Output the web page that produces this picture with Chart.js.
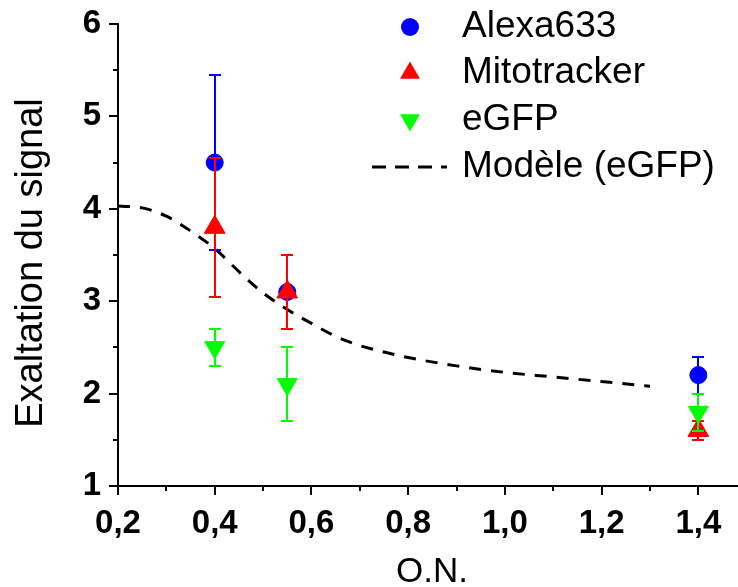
<!DOCTYPE html>
<html lang="fr">
<head>
<meta charset="UTF-8">
<title>Exaltation du signal</title>
<script src="https://cdn.jsdelivr.net/npm/chart.js@4.4.1/dist/chart.umd.min.js"></script>
<style>
    html, body { margin: 0; padding: 0; background: #fff; overflow: hidden; }
    #chartBox { width: 738px; height: 587px; }
</style>
</head>
<body>
<div id="chartBox"><canvas id="signalChart" width="738" height="587"></canvas></div>
<script>
// Exaltation du signal en fonction de l'ouverture numerique

const onValues = [0.4, 0.55, 1.4];

const alexaValues = [4.5, 3.1, 2.2];
const alexaErrors = [0.95, 0.05, 0.2];

const mitoValues = [3.8, 3.1, 1.6];
const mitoErrors = [0.75, 0.4, 0.1];

const egfpValues = [2.5, 2.1, 1.8];
const egfpErrors = [0.2, 0.4, 0.2];

// courbe du modele (eGFP)
const modelOn = [0.2, 0.25, 0.3, 0.35, 0.4, 0.45, 0.5, 0.55, 0.6, 0.65, 0.7, 0.75, 0.8, 0.9, 1.0, 1.1, 1.2, 1.3];
const modelValues = [4.03, 4.01, 3.92, 3.76, 3.57, 3.32, 3.09, 2.91, 2.76, 2.62, 2.52, 2.45, 2.39, 2.30, 2.23, 2.18, 2.13, 2.08];

const xTicks = [0.2, 0.4, 0.6, 0.8, 1.0, 1.2, 1.4];
const xMinorTicks = [0.3, 0.5, 0.7, 0.9, 1.1, 1.3];
const yTicks = [1, 2, 3, 4, 5, 6];
const yMinorTicks = [1.5, 2.5, 3.5, 4.5, 5.5];

const FONT = '"Liberation Sans", Arial, Helvetica, sans-serif';

function toPoints(values, errors) {
    return onValues.map((x, i) => ({ x: x, y: values[i], err: errors[i] }));
}

// barres d'erreur : dessinees juste avant les symboles de chaque serie
const errorBarPlugin = {
    id: 'errorBars',
    beforeDatasetDraw(chart, args) {
        const ds = chart.data.datasets[args.index];
        if (!ds.hasErrors) return;
        const ctx = chart.ctx;
        const xs = chart.scales.x;
        const ys = chart.scales.y;
        ctx.save();
        ctx.strokeStyle = ds.backgroundColor;
        ctx.lineWidth = 2;
        ds.data.forEach(p => {
            const px = Math.round(xs.getPixelForValue(p.x));
            const top = Math.round(ys.getPixelForValue(p.y + p.err));
            const bottom = Math.round(ys.getPixelForValue(p.y - p.err));
            ctx.beginPath();
            ctx.moveTo(px, top);
            ctx.lineTo(px, bottom);
            ctx.moveTo(px - 6, top);
            ctx.lineTo(px + 6, top);
            ctx.moveTo(px - 6, bottom);
            ctx.lineTo(px + 6, bottom);
            ctx.stroke();
        });
        ctx.restore();
    }
};

// graduations, titres des axes et legende
const decorPlugin = {
    id: 'decor',
    afterDraw(chart) {
        const ctx = chart.ctx;
        const area = chart.chartArea;
        const xs = chart.scales.x;
        const ys = chart.scales.y;

        ctx.save();
        ctx.strokeStyle = '#000';
        ctx.lineWidth = 2;
        ctx.beginPath();
        yTicks.forEach(v => {
            const py = Math.round(ys.getPixelForValue(v));
            ctx.moveTo(area.left - 9, py);
            ctx.lineTo(area.left, py);
        });
        yMinorTicks.forEach(v => {
            const py = Math.round(ys.getPixelForValue(v));
            ctx.moveTo(area.left - 5, py);
            ctx.lineTo(area.left, py);
        });
        xTicks.forEach(v => {
            const px = Math.round(xs.getPixelForValue(v));
            ctx.moveTo(px, area.bottom);
            ctx.lineTo(px, area.bottom + 9);
        });
        xMinorTicks.forEach(v => {
            const px = Math.round(xs.getPixelForValue(v));
            ctx.moveTo(px, area.bottom);
            ctx.lineTo(px, area.bottom + 5);
        });
        ctx.stroke();

        // titres
        ctx.fillStyle = '#000';
        ctx.textAlign = 'center';
        ctx.textBaseline = 'alphabetic';
        ctx.font = '35px ' + FONT;
        ctx.fillText('O.N.', 432, 582);

        ctx.save();
        ctx.translate(42, 263);
        ctx.rotate(-Math.PI / 2);
        ctx.font = '38px ' + FONT;
        ctx.fillText('Exaltation du signal', 0, 0);
        ctx.restore();

        // legende
        const markerX = 410;
        const textX = 462;
        const baselines = [37, 83, 130, 177];
        ctx.font = '37px ' + FONT;
        ctx.textAlign = 'left';
        chart.data.datasets.forEach((ds, i) => {
            const y = baselines[i];
            const my = y - 10;
            ctx.fillStyle = ds.backgroundColor;
            if (ds.showLine) {
                ctx.strokeStyle = ds.borderColor;
                ctx.lineWidth = 3;
                ctx.setLineDash([14, 9]);
                ctx.beginPath();
                ctx.moveTo(372, my);
                ctx.lineTo(447, my);
                ctx.stroke();
                ctx.setLineDash([]);
            } else if (ds.pointStyle === 'circle') {
                ctx.beginPath();
                ctx.arc(markerX, my, 9, 0, Math.PI * 2);
                ctx.fill();
            } else {
                const r = 11.5;
                const dir = ds.pointRotation === 180 ? -1 : 1;
                ctx.beginPath();
                ctx.moveTo(markerX, my - dir * r);
                ctx.lineTo(markerX + r * 0.866, my + dir * r / 2);
                ctx.lineTo(markerX - r * 0.866, my + dir * r / 2);
                ctx.closePath();
                ctx.fill();
            }
            ctx.fillStyle = '#000';
            ctx.fillText(ds.label, textX, y);
        });
        ctx.restore();
    }
};

function buildChart() {
    const ctx = document.getElementById('signalChart');

    new Chart(ctx, {
        type: 'scatter',
        data: {
            datasets: [
                {
                    label: 'Alexa633',
                    data: toPoints(alexaValues, alexaErrors),
                    hasErrors: true,
                    backgroundColor: '#0000ff',
                    borderColor: '#0000ff',
                    borderWidth: 1,
                    pointStyle: 'circle',
                    pointRadius: 8.5,
                    order: 3
                },
                {
                    label: 'Mitotracker',
                    data: toPoints(mitoValues, mitoErrors),
                    hasErrors: true,
                    backgroundColor: '#ff0000',
                    borderColor: '#ff0000',
                    borderWidth: 1,
                    pointStyle: 'triangle',
                    pointRadius: 12,
                    order: 2
                },
                {
                    label: 'eGFP',
                    data: toPoints(egfpValues, egfpErrors),
                    hasErrors: true,
                    backgroundColor: '#00ff00',
                    borderColor: '#00ff00',
                    borderWidth: 1,
                    pointStyle: 'triangle',
                    pointRotation: 180,
                    pointRadius: 11.5,
                    order: 1
                },
                {
                    label: 'Modèle (eGFP)',
                    data: modelOn.map((x, i) => ({ x: x, y: modelValues[i] })),
                    showLine: true,
                    backgroundColor: '#000',
                    borderColor: '#000',
                    borderWidth: 3,
                    borderDash: [12, 10],
                    cubicInterpolationMode: 'monotone',
                    pointRadius: 0,
                    order: 4
                }
            ]
        },
        options: {
            responsive: false,
            animation: false,
            layout: { autoPadding: false, padding: { top: 24, right: 0, left: 0, bottom: 0 } },
            plugins: {
                legend: { display: false },
                tooltip: { enabled: false }
            },
            scales: {
                x: {
                    type: 'linear',
                    min: 0.2,
                    max: 1.482,
                    afterFit: scale => {
                        scale.height = 101;
                        scale.paddingLeft = 0;
                        scale.paddingRight = 0;
                    },
                    afterBuildTicks: scale => { scale.ticks = xTicks.map(v => ({ value: v })); },
                    grid: { display: false, drawTicks: false },
                    border: { display: true, color: '#000', width: 2 },
                    ticks: {
                        padding: 18,
                        color: '#000',
                        maxRotation: 0,
                        font: { family: FONT, size: 33, weight: 'bold' },
                        callback: v => v.toFixed(1).replace('.', ',')
                    }
                },
                y: {
                    type: 'linear',
                    min: 1,
                    max: 6,
                    afterFit: scale => {
                        scale.width = 118;
                        scale.paddingTop = 0;
                        scale.paddingBottom = 0;
                    },
                    afterBuildTicks: scale => { scale.ticks = yTicks.map(v => ({ value: v })); },
                    grid: { display: false, drawTicks: false },
                    border: { display: true, color: '#000', width: 2 },
                    ticks: {
                        padding: 17,
                        color: '#000',
                        font: { family: FONT, size: 33, weight: 'bold' },
                        callback: v => String(v)
                    }
                }
            }
        },
        plugins: [errorBarPlugin, decorPlugin]
    });
}

document.addEventListener('DOMContentLoaded', buildChart);
</script>
</body>
</html>
